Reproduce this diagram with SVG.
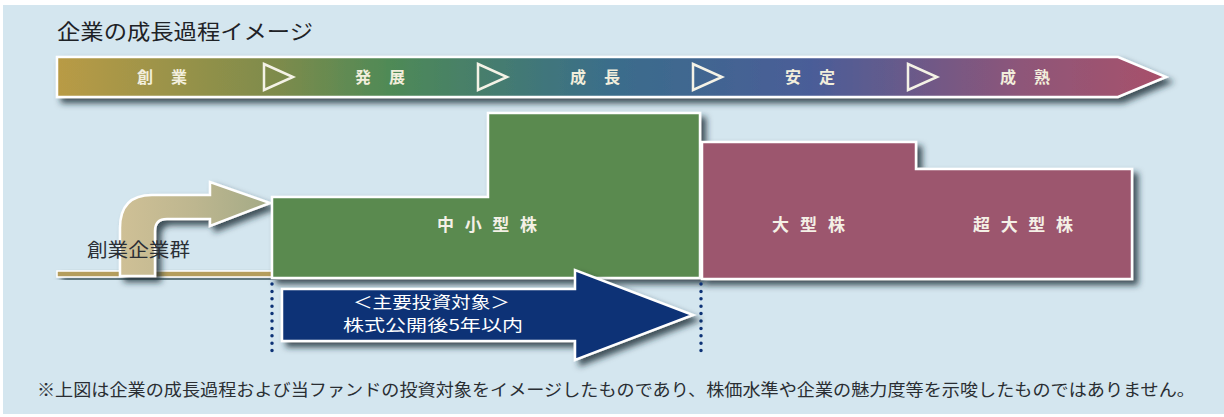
<svg xmlns="http://www.w3.org/2000/svg" width="1224" height="417" viewBox="0 0 1224 417">
<defs>
  <linearGradient id="band" gradientUnits="userSpaceOnUse" x1="57" y1="0" x2="1166" y2="0">
    <stop offset="0" stop-color="#b99b45"/>
    <stop offset="0.2" stop-color="#7d8b4c"/>
    <stop offset="0.3" stop-color="#4f8a56"/>
    <stop offset="0.5" stop-color="#3a6d8b"/>
    <stop offset="0.68" stop-color="#4a5d98"/>
    <stop offset="0.87" stop-color="#8e5679"/>
    <stop offset="1" stop-color="#a8506a"/>
  </linearGradient>
  <linearGradient id="curve" gradientUnits="userSpaceOnUse" x1="120" y1="0" x2="270" y2="0">
    <stop offset="0" stop-color="#cfc096"/>
    <stop offset="0.5" stop-color="#bdb68f"/>
    <stop offset="1" stop-color="#a3aa86"/>
  </linearGradient>
  <filter id="sh" x="-10%" y="-20%" width="125%" height="160%">
    <feDropShadow dx="5" dy="5" stdDeviation="3" flood-color="#1d2b36" flood-opacity="0.8"/>
  </filter>
  <style>
    .jp{font-family:"Noto Sans CJK JP","Noto Sans",sans-serif}
    .band{font-size:16px;font-weight:bold;fill:#f2eedc}
    .blk{font-size:17px;font-weight:bold;fill:#f4f0e6}
    .tri{fill:none;stroke:#f4f2e6;stroke-width:2.5;stroke-linejoin:miter}
    .dots{stroke:#0d3276;stroke-width:3.5;stroke-linecap:round;stroke-dasharray:0 7.4}
    .wl{stroke:#ffffff;stroke-width:2.5;stroke-linejoin:miter}
  </style>
</defs>
<rect x="0" y="0" width="1224" height="417" fill="#ffffff"/>
<rect x="3" y="5" width="1221" height="409" fill="#d4e6ef"/>

<g id="title">
  <text class="jp" x="57" y="39" font-size="21" fill="#1e2226" textLength="256" lengthAdjust="spacingAndGlyphs">企業の成長過程イメージ</text>
</g>

<g id="stage-banner">
  <polygon points="57,57 1118,57 1166,77 1118,97 57,97" fill="url(#band)" class="wl" filter="url(#sh)"/>
  <g class="jp band">
    <text x="137" y="83" textLength="50" lengthAdjust="spacing">創業</text>
    <text x="355" y="83" textLength="50" lengthAdjust="spacing">発展</text>
    <text x="570" y="83" textLength="50" lengthAdjust="spacing">成長</text>
    <text x="785" y="83" textLength="50" lengthAdjust="spacing">安定</text>
    <text x="1000" y="83" textLength="50" lengthAdjust="spacing">成熟</text>
  </g>
  <polygon class="tri" points="264,64 293,77 264,90"/>
  <polygon class="tri" points="478,64 507,77 478,90"/>
  <polygon class="tri" points="693,64 722,77 693,90"/>
  <polygon class="tri" points="908,64 937,77 908,90"/>
</g>

<g id="startup-group">
  <rect x="57" y="271" width="216" height="6" fill="#b49d5c" stroke="#ffffff" stroke-width="1.5" filter="url(#sh)"/>
  <path d="M120,276 L120,228 Q120,195 152,195 L210,195 L210,182 L270,203 L210,226 L210,219 L167,219 Q155,219 155,231 L155,276 Z" fill="url(#curve)" class="wl" filter="url(#sh)"/>
  <text class="jp" x="87" y="257" font-size="19" fill="#2b2f35" textLength="103" lengthAdjust="spacingAndGlyphs">創業企業群</text>
</g>

<g id="small-mid-cap">
  <polygon points="272,197 488,197 488,113 700,113 700,278 272,278" fill="#5a8a50" class="wl" filter="url(#sh)"/>
  <text class="jp blk" x="437" y="231" textLength="100" lengthAdjust="spacing">中小型株</text>
</g>

<g id="large-cap">
  <polygon points="702,142 916,142 916,169 1132,169 1132,279 702,279" fill="#9c566e" class="wl" filter="url(#sh)"/>
  <text class="jp blk" x="772" y="231" textLength="73" lengthAdjust="spacing">大型株</text>
  <text class="jp blk" x="973" y="231" textLength="100" lengthAdjust="spacing">超大型株</text>
</g>

<g id="connectors">
  <line class="dots" x1="272" y1="284" x2="272" y2="358"/>
  <line class="dots" x1="701" y1="284" x2="701" y2="358"/>
  <polygon points="282,289 575,289 575,270 693,315 575,360 575,341 282,341" fill="#0d3276" class="wl" filter="url(#sh)"/>
  <text class="jp" x="353" y="308" font-size="16" fill="#ffffff" textLength="157" lengthAdjust="spacingAndGlyphs">＜主要投資対象＞</text>
  <text class="jp" x="343" y="331" font-size="16" fill="#ffffff" textLength="180" lengthAdjust="spacingAndGlyphs">株式公開後5年以内</text>
</g>

<g id="footnote">
  <text class="jp" x="37" y="396" font-size="16.5" fill="#2a2e33" textLength="1158" lengthAdjust="spacingAndGlyphs">※上図は企業の成長過程および当ファンドの投資対象をイメージしたものであり、株価水準や企業の魅力度等を示唆したものではありません。</text>
</g>
</svg>
